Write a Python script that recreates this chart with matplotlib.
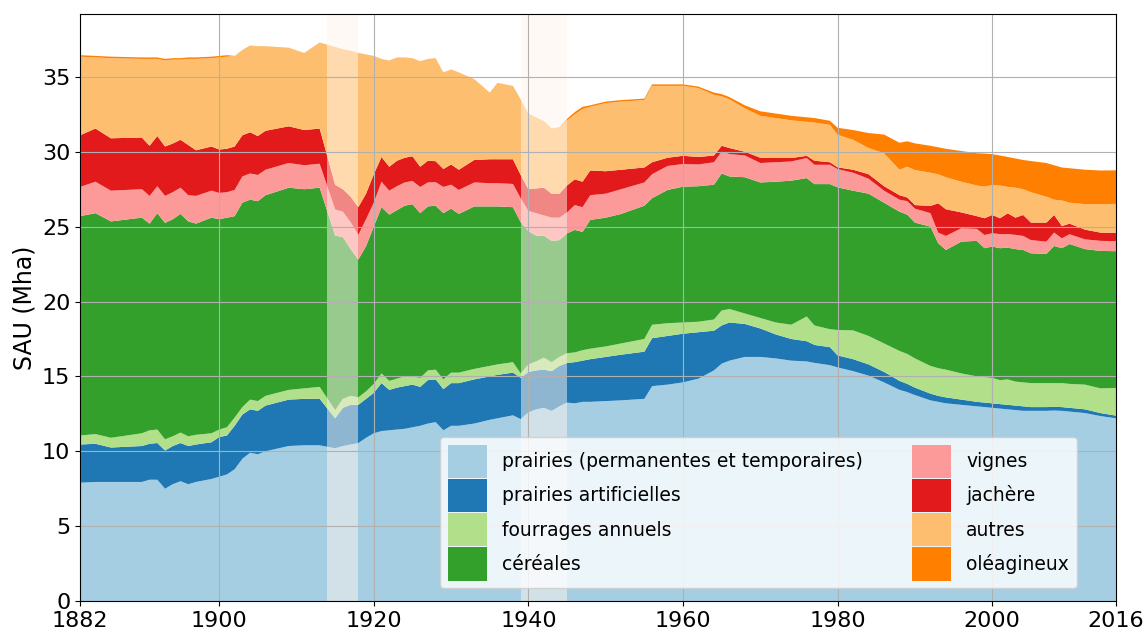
import numpy as np
import matplotlib
matplotlib.use('Agg')
from matplotlib import pyplot as plt

# surfaces agricoles utiles (Mha)
annees = [1882, 1884, 1886, 1890, 1891, 1892, 1893, 1894, 1895, 1896,
          1897, 1899, 1900, 1901, 1902, 1903, 1904, 1905, 1906, 1909,
          1911, 1913, 1915, 1916, 1917, 1918, 1919, 1920, 1921, 1922,
          1923, 1924, 1925, 1926, 1927, 1928, 1929, 1930, 1931, 1933,
          1935, 1936, 1938, 1939, 1940, 1941, 1942, 1943, 1944, 1945,
          1946, 1947, 1948, 1950, 1952, 1955, 1956, 1958, 1960, 1962,
          1964, 1965, 1966, 1968, 1970, 1972, 1974, 1976, 1977, 1979,
          1980, 1982, 1984, 1986, 1988, 1989, 1990, 1992, 1993, 1994,
          1996, 1998, 1999, 2000, 2001, 2002, 2003, 2004, 2005, 2007,
          2008, 2009, 2010, 2012, 2014, 2016]

prairies = [7.9, 7.95, 7.95, 7.95, 8.1, 8.1, 7.5, 7.8, 8.0, 7.8,
            7.95, 8.15, 8.3, 8.45, 8.8, 9.5, 9.9, 9.8, 10.0, 10.35,
            10.4, 10.4, 10.2, 10.35, 10.45, 10.55, 10.9, 11.2, 11.35, 11.4,
            11.45, 11.5, 11.6, 11.7, 11.85, 11.95, 11.4, 11.7, 11.7, 11.85,
            12.1, 12.2, 12.4, 12.15, 12.6, 12.8, 12.9, 12.7, 13.0, 13.25,
            13.2, 13.3, 13.3, 13.35, 13.4, 13.5, 14.35, 14.45, 14.6, 14.85,
            15.4, 15.85, 16.05, 16.3, 16.3, 16.2, 16.05, 16.0, 15.9, 15.75,
            15.6, 15.35, 15.05, 14.6, 14.1, 13.95, 13.75, 13.4, 13.3, 13.2,
            13.1, 13.0, 12.95, 12.9, 12.85, 12.8, 12.75, 12.7, 12.7, 12.7,
            12.72, 12.7, 12.65, 12.55, 12.35, 12.2]
artificielles = [2.55, 2.55, 2.3, 2.4, 2.4, 2.45, 2.55, 2.55, 2.55, 2.55,
                 2.5, 2.45, 2.65, 2.6, 2.9, 2.95, 2.9, 2.9, 3.05, 3.1,
                 3.1, 3.1, 2.0, 2.55, 2.65, 2.55, 2.6, 2.7, 3.2, 2.7,
                 2.8, 2.85, 2.85, 2.6, 2.9, 2.85, 2.75, 2.85, 2.85, 2.95,
                 2.9, 2.9, 2.85, 2.75, 2.7, 2.6, 2.55, 2.65, 2.7, 2.65,
                 2.75, 2.75, 2.85, 2.95, 3.05, 3.15, 3.2, 3.25, 3.25, 3.1,
                 2.65, 2.55, 2.55, 2.2, 1.9, 1.6, 1.45, 1.35, 1.2, 1.2,
                 0.8, 0.8, 0.75, 0.7, 0.6, 0.55, 0.5, 0.45, 0.4, 0.4,
                 0.35, 0.3, 0.3, 0.3, 0.3, 0.3, 0.3, 0.3, 0.25, 0.25,
                 0.25, 0.25, 0.25, 0.25, 0.2, 0.18]
fourrages = [0.6, 0.65, 0.65, 0.85, 0.9, 0.9, 0.75, 0.65, 0.7, 0.65,
             0.65, 0.6, 0.5, 0.55, 0.55, 0.5, 0.65, 0.65, 0.65, 0.65,
             0.7, 0.8, 0.55, 0.6, 0.6, 0.5, 0.5, 0.6, 0.65, 0.6,
             0.6, 0.65, 0.55, 0.6, 0.65, 0.65, 0.65, 0.7, 0.7, 0.7,
             0.7, 0.7, 0.7, 0.3, 0.5, 0.6, 0.8, 0.6, 0.6, 0.65,
             0.65, 0.7, 0.7, 0.7, 0.75, 0.85, 0.9, 0.85, 0.75, 0.7,
             0.75, 1.0, 0.9, 0.7, 0.7, 0.8, 0.95, 1.65, 1.3, 1.2,
             1.7, 1.92, 1.9, 1.9, 2.0, 2.0, 1.95, 1.85, 1.85, 1.85,
             1.75, 1.7, 1.7, 1.7, 1.6, 1.7, 1.6, 1.6, 1.6, 1.6,
             1.58, 1.6, 1.6, 1.65, 1.65, 1.85]
cereales = [14.65, 14.75, 14.45, 14.4, 13.8, 14.45, 14.45, 14.5, 14.6, 14.35,
            14.1, 14.4, 14.05, 14.0, 13.45, 13.65, 13.35, 13.35, 13.4, 13.5,
            13.3, 13.3, 11.65, 10.8, 9.8, 9.2, 9.7, 10.5, 11.1, 11.1,
            11.25, 11.4, 11.5, 11.0, 10.95, 10.95, 11.1, 10.95, 10.6, 10.85,
            10.65, 10.55, 10.35, 10.1, 8.9, 8.4, 8.15, 8.1, 7.8, 8.0,
            8.18, 7.9, 8.6, 8.6, 8.65, 8.9, 8.45, 8.9, 9.07, 9.05,
            9.0, 9.15, 8.85, 9.1, 9.05, 9.4, 9.62, 9.24, 9.44, 9.69,
            9.52, 9.33, 9.5, 9.4, 9.3, 9.3, 9.07, 9.3, 8.35, 7.99,
            8.8, 9.05, 8.61, 8.77, 8.81, 8.8, 8.85, 8.84, 8.67, 8.63,
            9.16, 9.01, 9.34, 9.05, 9.18, 9.13]
vignes = [1.95, 2.1, 2.05, 1.9, 1.85, 1.8, 1.8, 1.8, 1.75, 1.75,
          1.85, 1.8, 1.75, 1.7, 1.75, 1.75, 1.75, 1.75, 1.7, 1.65,
          1.6, 1.6, 1.75, 1.7, 1.8, 1.65, 1.8, 1.6, 1.7, 1.6,
          1.6, 1.55, 1.55, 1.75, 1.6, 1.57, 1.75, 1.6, 1.6, 1.6,
          1.55, 1.55, 1.55, 1.6, 1.35, 1.5, 1.35, 1.55, 1.5, 1.4,
          1.66, 1.65, 1.65, 1.6, 1.65, 1.55, 1.6, 1.6, 1.51, 1.45,
          1.5, 1.45, 1.5, 1.45, 1.3, 1.3, 1.28, 1.34, 1.29, 1.29,
          1.22, 1.2, 1.0, 0.8, 0.8, 0.9, 0.93, 0.9, 0.7, 0.94,
          0.89, 0.8, 0.88, 0.89, 0.94, 0.9, 0.95, 0.94, 0.88, 0.82,
          0.89, 0.66, 0.65, 0.65, 0.67, 0.67]
jachere = [3.45, 3.55, 3.5, 3.45, 3.35, 3.35, 3.3, 3.25, 3.2, 3.35,
           3.05, 2.95, 2.9, 2.9, 2.9, 2.75, 2.75, 2.6, 2.6, 2.45,
           2.35, 2.35, 1.65, 1.5, 1.7, 1.85, 1.7, 1.9, 1.65, 1.6,
           1.7, 1.65, 1.65, 1.35, 1.45, 1.4, 1.2, 1.35, 1.35, 1.5,
           1.6, 1.6, 1.65, 1.55, 1.45, 1.65, 1.85, 1.6, 1.6, 1.8,
           1.72, 1.7, 1.65, 1.5, 1.3, 1.0, 0.8, 0.55, 0.55, 0.5,
           0.45, 0.4, 0.4, 0.25, 0.35, 0.3, 0.23, 0.15, 0.27, 0.17,
           0.12, 0.2, 0.3, 0.3, 0.3, 0.25, 0.24, 0.48, 1.96, 1.78,
           1.06, 0.85, 1.12, 1.22, 1.06, 1.39, 1.15, 1.4, 1.17, 1.27,
           1.18, 0.82, 0.71, 0.65, 0.55, 0.56]
autres = [5.25, 4.75, 5.35, 5.25, 5.8, 5.15, 5.75, 5.6, 5.35, 5.75,
          6.1, 5.9, 6.15, 6.15, 6.05, 5.7, 5.8, 6.0, 5.65, 5.25,
          5.15, 5.75, 9.2, 9.35, 9.75, 10.3, 9.3, 7.9, 6.55, 7.1,
          6.9, 6.7, 6.55, 7.05, 6.8, 6.88, 6.45, 6.35, 6.5, 5.4,
          4.45, 5.1, 4.9, 5.05, 5.05, 4.75, 4.45, 4.35, 4.45, 4.35,
          4.34, 4.85, 4.25, 4.55, 4.55, 4.5, 5.1, 4.8, 4.67, 4.6,
          4.05, 3.3, 3.25, 2.9, 2.8, 2.65, 2.52, 2.27, 2.55, 2.5,
          2.17, 2.0, 1.75, 2.2, 1.7, 2.05, 2.34, 2.22, 1.94, 2.14,
          2.05, 2.05, 2.11, 2.0, 2.19, 1.76, 2.0, 1.72, 2.03, 1.73,
          1.02, 1.71, 1.4, 1.7, 1.9, 1.93]
oleagineux = [0.1, 0.1, 0.1, 0.1, 0.1, 0.1, 0.1, 0.1, 0.1, 0.1,
              0.1, 0.1, 0.1, 0.1, 0.0, 0.0, 0.0, 0.0, 0.0, 0.0,
              0.0, 0.0, 0.0, 0.0, 0.0, 0.0, 0.0, 0.0, 0.0, 0.0,
              0.0, 0.0, 0.0, 0.0, 0.0, 0.0, 0.0, 0.0, 0.0, 0.0,
              0.0, 0.0, 0.0, 0.0, 0.0, 0.0, 0.0, 0.0, 0.0, 0.1,
              0.15, 0.15, 0.1, 0.1, 0.1, 0.1, 0.1, 0.1, 0.1, 0.1,
              0.15, 0.15, 0.15, 0.2, 0.3, 0.3, 0.3, 0.3, 0.3, 0.27,
              0.47, 0.65, 1.0, 1.25, 1.8, 1.7, 1.78, 1.8, 1.8, 1.9,
              2.05, 2.15, 2.21, 2.06, 2.0, 2.0, 1.95, 1.95, 2.08, 2.25,
              2.3, 2.2, 2.3, 2.3, 2.25, 2.24]

noms = ['prairies (permanentes et temporaires)', 'prairies artificielles',
        'fourrages annuels', 'céréales', 'vignes', 'jachère', 'autres',
        'oléagineux']
guerres = [(1914, 1918), (1939, 1945)]

couleurs = [plt.cm.Paired(i) for i in range(8)]

fig = plt.figure(figsize=(11.48, 6.3), dpi=100)
ax = fig.add_axes([0.0697, 0.046, 0.9024, 0.9318])
ax.stackplot(annees, prairies, artificielles, fourrages, cereales, vignes,
             jachere, autres, oleagineux, colors=couleurs, labels=noms)
for debut, fin in guerres:
    ax.axvspan(debut, fin, color='seashell', alpha=0.5, lw=0)

ax.set_xlim(1882, 2016)
ax.set_ylim(0, 39.2)
ax.set_xticks([1882, 1900, 1920, 1940, 1960, 1980, 2000, 2016])
ax.set_yticks(range(0, 36, 5))
ax.tick_params(labelsize=16)
ax.set_ylabel('SAU (Mha)', fontsize=17)
ax.grid(True)
ax.legend(loc='lower right', bbox_to_anchor=(0.962, 0.022), borderaxespad=0,
          ncol=2, fontsize=13.5, handlelength=2.1, handleheight=2.35,
          labelspacing=0.05, columnspacing=2.6)

fig.savefig('out.png', dpi=100)
